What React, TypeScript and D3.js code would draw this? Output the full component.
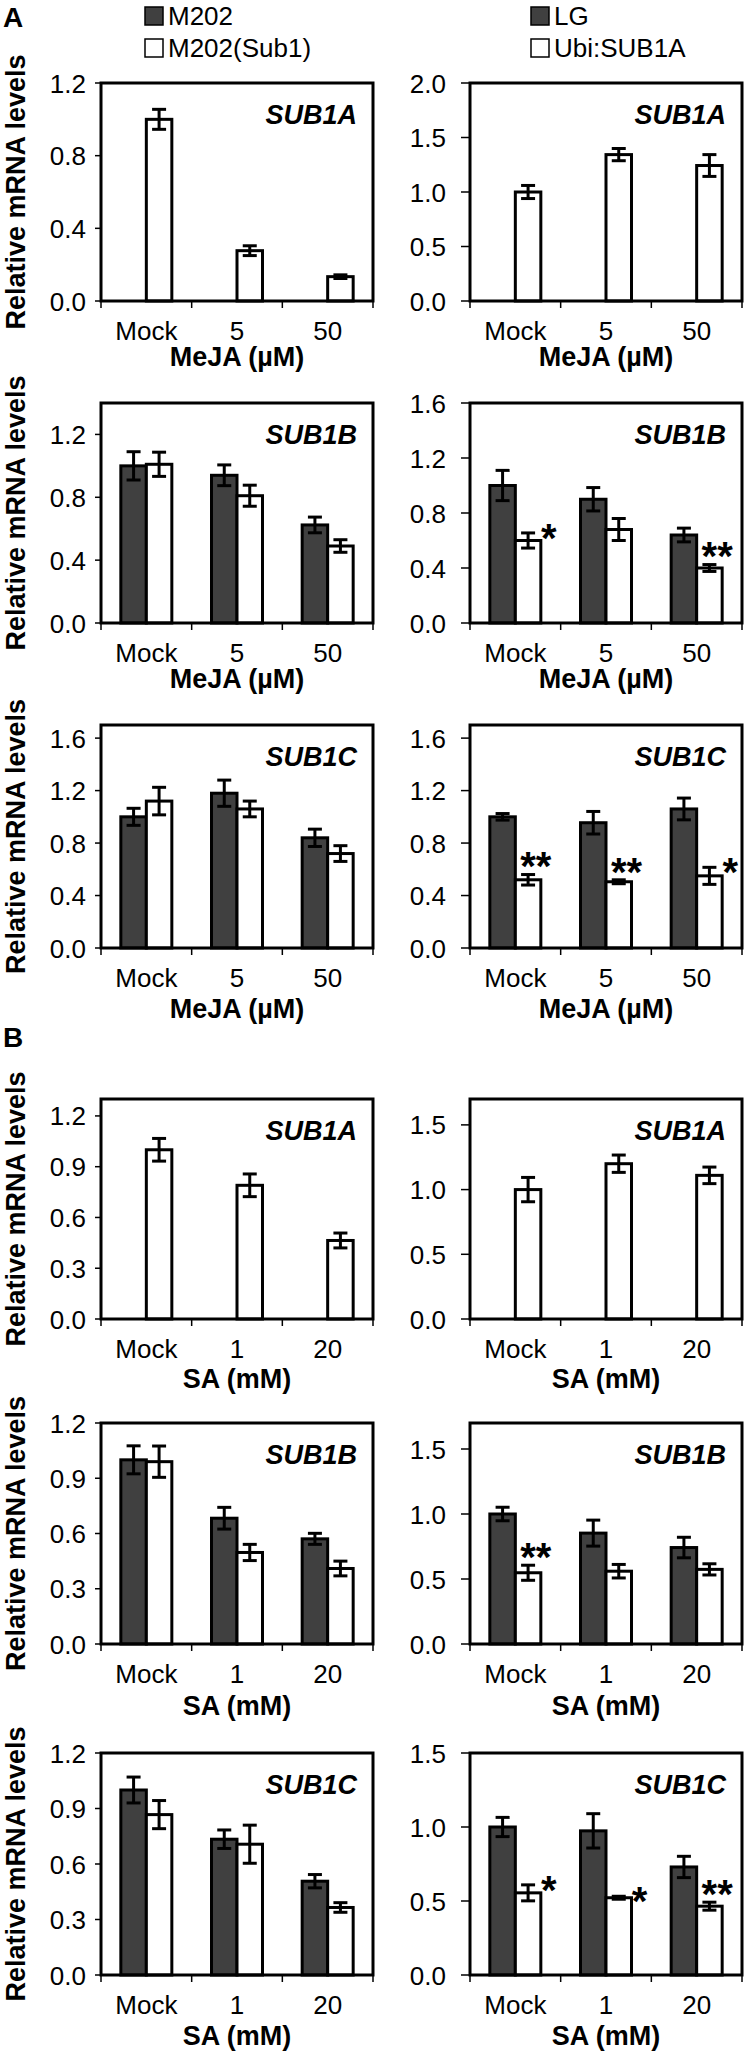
import React, { useEffect, useRef } from 'react';
import * as d3 from 'd3';

// categories
const mejaDoses = ['Mock', '5', '50'];
const saDoses = ['Mock', '1', '20'];
const leftLegend = ['M202', 'M202(Sub1)'];
const rightLegend = ['LG', 'Ubi:SUB1A'];

// y tick sets
const ticks12by4 = [0, 0.4, 0.8, 1.2];
const ticks16by4 = [0, 0.4, 0.8, 1.2, 1.6];
const ticks20by5 = [0, 0.5, 1.0, 1.5, 2.0];
const ticks12by3 = [0, 0.3, 0.6, 0.9, 1.2];
const ticks15by5 = [0, 0.5, 1.0, 1.5];

// A: MeJA, SUB1A
const jaSub1aM202Sub1 = [1.0, 0.277, 0.134];
const jaSub1aM202Sub1Err = [0.055, 0.027, 0.01];
const jaSub1aUbi = [1.0, 1.343, 1.243];
const jaSub1aUbiErr = [0.06, 0.056, 0.1];

// A: MeJA, SUB1B
const jaSub1bM202 = [1.0, 0.94, 0.624];
const jaSub1bM202Err = [0.09, 0.066, 0.05];
const jaSub1bM202Sub1 = [1.01, 0.81, 0.49];
const jaSub1bM202Sub1Err = [0.077, 0.067, 0.04];
const jaSub1bLG = [1.0, 0.9, 0.64];
const jaSub1bLGErr = [0.11, 0.085, 0.05];
const jaSub1bUbi = [0.6, 0.68, 0.4];
const jaSub1bUbiErr = [0.055, 0.08, 0.025];
const jaSub1bUbiStars = ['*', '', '**'];

// A: MeJA, SUB1C
const jaSub1cM202 = [1.0, 1.18, 0.84];
const jaSub1cM202Err = [0.065, 0.1, 0.066];
const jaSub1cM202Sub1 = [1.12, 1.06, 0.72];
const jaSub1cM202Sub1Err = [0.105, 0.06, 0.06];
const jaSub1cLG = [1.0, 0.955, 1.06];
const jaSub1cLGErr = [0.025, 0.086, 0.083];
const jaSub1cUbi = [0.52, 0.505, 0.55];
const jaSub1cUbiErr = [0.04, 0.015, 0.065];
const jaSub1cUbiStars = ['**', '**', '*'];

// B: SA, SUB1A
const saSub1aM202Sub1 = [1.0, 0.79, 0.464];
const saSub1aM202Sub1Err = [0.067, 0.067, 0.044];
const saSub1aUbi = [1.0, 1.2, 1.11];
const saSub1aUbiErr = [0.094, 0.067, 0.064];

// B: SA, SUB1B
const saSub1bM202 = [1.0, 0.683, 0.571];
const saSub1bM202Err = [0.076, 0.059, 0.03];
const saSub1bM202Sub1 = [0.99, 0.497, 0.41];
const saSub1bM202Sub1Err = [0.085, 0.044, 0.04];
const saSub1bLG = [1.0, 0.853, 0.742];
const saSub1bLGErr = [0.052, 0.1, 0.079];
const saSub1bUbi = [0.548, 0.56, 0.574];
const saSub1bUbiErr = [0.058, 0.052, 0.043];
const saSub1bUbiStars = ['**', '', ''];

// B: SA, SUB1C
const saSub1cM202 = [1.0, 0.734, 0.507];
const saSub1cM202Err = [0.07, 0.05, 0.036];
const saSub1cM202Sub1 = [0.867, 0.707, 0.365];
const saSub1cM202Sub1Err = [0.076, 0.103, 0.026];
const saSub1cLG = [1.0, 0.974, 0.73];
const saSub1cLGErr = [0.065, 0.116, 0.072];
const saSub1cUbi = [0.555, 0.522, 0.465];
const saSub1cUbiErr = [0.054, 0.01, 0.027];
const saSub1cUbiStars = ['*', '*', '**'];

const MEJA = 'MeJA (\u00b5M)';
const SA = 'SA (mM)';

const panels = [
  { row: 0, col: 0, gene: 'SUB1A', doses: mejaDoses, title: MEJA, yMax: 1.2, ticks: ticks12by4, white: jaSub1aM202Sub1, whiteErr: jaSub1aM202Sub1Err },
  { row: 0, col: 1, gene: 'SUB1A', doses: mejaDoses, title: MEJA, yMax: 2.0, ticks: ticks20by5, white: jaSub1aUbi, whiteErr: jaSub1aUbiErr },
  { row: 1, col: 0, gene: 'SUB1B', doses: mejaDoses, title: MEJA, yMax: 1.4, ticks: ticks12by4, dark: jaSub1bM202, darkErr: jaSub1bM202Err, white: jaSub1bM202Sub1, whiteErr: jaSub1bM202Sub1Err },
  { row: 1, col: 1, gene: 'SUB1B', doses: mejaDoses, title: MEJA, yMax: 1.6, ticks: ticks16by4, dark: jaSub1bLG, darkErr: jaSub1bLGErr, white: jaSub1bUbi, whiteErr: jaSub1bUbiErr, stars: jaSub1bUbiStars },
  { row: 2, col: 0, gene: 'SUB1C', doses: mejaDoses, title: MEJA, yMax: 1.7, ticks: ticks16by4, dark: jaSub1cM202, darkErr: jaSub1cM202Err, white: jaSub1cM202Sub1, whiteErr: jaSub1cM202Sub1Err },
  { row: 2, col: 1, gene: 'SUB1C', doses: mejaDoses, title: MEJA, yMax: 1.7, ticks: ticks16by4, dark: jaSub1cLG, darkErr: jaSub1cLGErr, white: jaSub1cUbi, whiteErr: jaSub1cUbiErr, stars: jaSub1cUbiStars },
  { row: 3, col: 0, gene: 'SUB1A', doses: saDoses, title: SA, yMax: 1.3, ticks: ticks12by3, white: saSub1aM202Sub1, whiteErr: saSub1aM202Sub1Err },
  { row: 3, col: 1, gene: 'SUB1A', doses: saDoses, title: SA, yMax: 1.7, ticks: ticks15by5, white: saSub1aUbi, whiteErr: saSub1aUbiErr },
  { row: 4, col: 0, gene: 'SUB1B', doses: saDoses, title: SA, yMax: 1.2, ticks: ticks12by3, dark: saSub1bM202, darkErr: saSub1bM202Err, white: saSub1bM202Sub1, whiteErr: saSub1bM202Sub1Err },
  { row: 4, col: 1, gene: 'SUB1B', doses: saDoses, title: SA, yMax: 1.7, ticks: ticks15by5, dark: saSub1bLG, darkErr: saSub1bLGErr, white: saSub1bUbi, whiteErr: saSub1bUbiErr, stars: saSub1bUbiStars },
  { row: 5, col: 0, gene: 'SUB1C', doses: saDoses, title: SA, yMax: 1.2, ticks: ticks12by3, dark: saSub1cM202, darkErr: saSub1cM202Err, white: saSub1cM202Sub1, whiteErr: saSub1cM202Sub1Err },
  { row: 5, col: 1, gene: 'SUB1C', doses: saDoses, title: SA, yMax: 1.5, ticks: ticks15by5, dark: saSub1cLG, darkErr: saSub1cLGErr, white: saSub1cUbi, whiteErr: saSub1cUbiErr, stars: saSub1cUbiStars },
];

// layout
const rowBoxes = [
  { top: 83, bottom: 301, titleDy: 65 },
  { top: 403, bottom: 623, titleDy: 65 },
  { top: 725, bottom: 948, titleDy: 70 },
  { top: 1099, bottom: 1319, titleDy: 69 },
  { top: 1423, bottom: 1644, titleDy: 71 },
  { top: 1753, bottom: 1975, titleDy: 70 },
];
const colBoxes = [
  { left: 101, right: 373, labelGap: 15, tickLen: 6 },
  { left: 470, right: 742, labelGap: 24, tickLen: 9 },
];

const FONT = '"Liberation Sans", Arial, Helvetica, sans-serif';
const DARK = '#404040';
const STAR_SIZE = 40;

const App = () => {
  const svgRef = useRef<SVGSVGElement>(null);

  useEffect(() => {
    const svg = d3.select(svgRef.current);
    svg.selectAll('*').remove();
    svg.append('rect').attr('width', 747).attr('height', 2057).attr('fill', '#fff');

    const fmt = d3.format('.1f');

    panels.forEach((p) => {
      const rb = rowBoxes[p.row];
      const cb = colBoxes[p.col];
      const g = svg.append('g');

      const x = d3.scaleBand().domain(p.doses).range([cb.left, cb.right]);
      const inner = d3.scaleBand().domain(['dark', 'white']).range([-25.5, 25.5]);
      const y = d3.scaleLinear().domain([0, p.yMax]).range([rb.bottom, rb.top]);

      const series: { key: string; vals: number[]; errs: number[]; fill: string }[] = [];
      if (p.dark) series.push({ key: 'dark', vals: p.dark, errs: p.darkErr!, fill: DARK });
      series.push({ key: 'white', vals: p.white, errs: p.whiteErr, fill: '#fff' });

      series.forEach((s) => {
        const bx = (i: number) => x(p.doses[i])! + x.bandwidth() / 2 + inner(s.key)!;
        g.selectAll(null)
          .data(s.vals)
          .join('rect')
          .attr('x', (_d, i) => bx(i))
          .attr('y', (d) => y(d))
          .attr('width', inner.bandwidth())
          .attr('height', (d) => y(0) - y(d))
          .attr('fill', s.fill)
          .attr('stroke', '#000')
          .attr('stroke-width', 3);
      });

      // error bars
      series.forEach((s) => {
        const cx = (i: number) => x(p.doses[i])! + x.bandwidth() / 2 + inner(s.key)! + inner.bandwidth() / 2;
        s.vals.forEach((v, i) => {
          const e = s.errs[i];
          const c = cx(i);
          g.append('line').attr('x1', c).attr('x2', c).attr('y1', y(v + e)).attr('y2', y(v - e));
          g.append('line').attr('x1', c - 7).attr('x2', c + 7).attr('y1', y(v + e)).attr('y2', y(v + e));
          g.append('line').attr('x1', c - 7).attr('x2', c + 7).attr('y1', y(v - e)).attr('y2', y(v - e));
        });
      });
      g.selectAll('line').attr('stroke', '#000').attr('stroke-width', 3);

      // significance stars
      if (p.stars) {
        p.stars.forEach((st, i) => {
          if (!st) return;
          const right = x(p.doses[i])! + x.bandwidth() / 2 + inner('white')! + inner.bandwidth();
          const top = y(p.white[i] + p.whiteErr[i]);
          const double = st.length > 1;
          const cy = double ? top - 17 : top - 4;
          g.append('text')
            .attr('x', double ? right - 5 : right + 8)
            .attr('y', cy + STAR_SIZE * 0.57)
            .attr('text-anchor', 'middle')
            .attr('font-family', FONT)
            .attr('font-weight', 'bold')
            .attr('font-size', STAR_SIZE)
            .text(st);
        });
      }

      // frame
      g.append('rect')
        .attr('x', cb.left)
        .attr('y', rb.top)
        .attr('width', cb.right - cb.left)
        .attr('height', rb.bottom - rb.top)
        .attr('fill', 'none')
        .attr('stroke', '#000')
        .attr('stroke-width', 3);

      // y ticks
      const yAxis = g.append('g');
      p.ticks.forEach((t) => {
        yAxis.append('line')
          .attr('x1', cb.left - cb.tickLen).attr('x2', cb.left)
          .attr('y1', y(t)).attr('y2', y(t))
          .attr('stroke', '#000').attr('stroke-width', 1.5);
        yAxis.append('text')
          .attr('x', cb.left - cb.labelGap)
          .attr('y', y(t) + 9.5)
          .attr('text-anchor', 'end')
          .attr('font-family', FONT)
          .attr('font-size', 26)
          .text(fmt(t));
      });

      // x ticks at band edges
      const edges = p.doses.map((d) => x(d)!).concat([cb.right]);
      edges.forEach((ex) => {
        g.append('line')
          .attr('x1', ex).attr('x2', ex)
          .attr('y1', rb.bottom).attr('y2', rb.bottom + 7)
          .attr('stroke', '#000').attr('stroke-width', 1.5);
      });
      p.doses.forEach((d) => {
        g.append('text')
          .attr('x', x(d)! + x.bandwidth() / 2)
          .attr('y', rb.bottom + 39)
          .attr('text-anchor', 'middle')
          .attr('font-family', FONT)
          .attr('font-size', 26)
          .text(d);
      });

      g.append('text')
        .attr('x', (cb.left + cb.right) / 2)
        .attr('y', rb.bottom + rb.titleDy)
        .attr('text-anchor', 'middle')
        .attr('font-family', FONT)
        .attr('font-weight', 'bold')
        .attr('font-size', 27)
        .text(p.title);

      g.append('text')
        .attr('x', cb.right - 16)
        .attr('y', rb.top + 41)
        .attr('text-anchor', 'end')
        .attr('font-family', FONT)
        .attr('font-weight', 'bold')
        .attr('font-style', 'italic')
        .attr('font-size', 27)
        .text(p.gene);

      if (p.col === 0) {
        const cy = (rb.top + rb.bottom) / 2;
        g.append('text')
          .attr('transform', `translate(25,${cy}) rotate(-90)`)
          .attr('text-anchor', 'middle')
          .attr('font-family', FONT)
          .attr('font-weight', 'bold')
          .attr('font-size', 27)
          .text('Relative mRNA levels');
      }
    });

    // legends
    const legends = [
      { items: leftLegend, sx: 145, tx: 168 },
      { items: rightLegend, sx: 531, tx: 554 },
    ];
    legends.forEach((lg) => {
      lg.items.forEach((name, i) => {
        const base = 25 + i * 32;
        svg.append('rect')
          .attr('x', lg.sx).attr('y', base - 18)
          .attr('width', 18).attr('height', 18)
          .attr('fill', i === 0 ? DARK : '#fff')
          .attr('stroke', '#000').attr('stroke-width', 1.5);
        svg.append('text')
          .attr('x', lg.tx).attr('y', base)
          .attr('font-family', FONT).attr('font-size', 26)
          .text(name);
      });
    });

    // panel letters
    [{ t: 'A', y: 27 }, { t: 'B', y: 1047 }].forEach((l) => {
      svg.append('text')
        .attr('x', 3).attr('y', l.y)
        .attr('font-family', FONT).attr('font-weight', 'bold').attr('font-size', 28)
        .text(l.t);
    });
  }, []);

  return (
    <svg
      ref={svgRef}
      width={747}
      height={2057}
      style={{ position: 'absolute', left: 0, top: 0, display: 'block' }}
    />
  );
};

export default App;
